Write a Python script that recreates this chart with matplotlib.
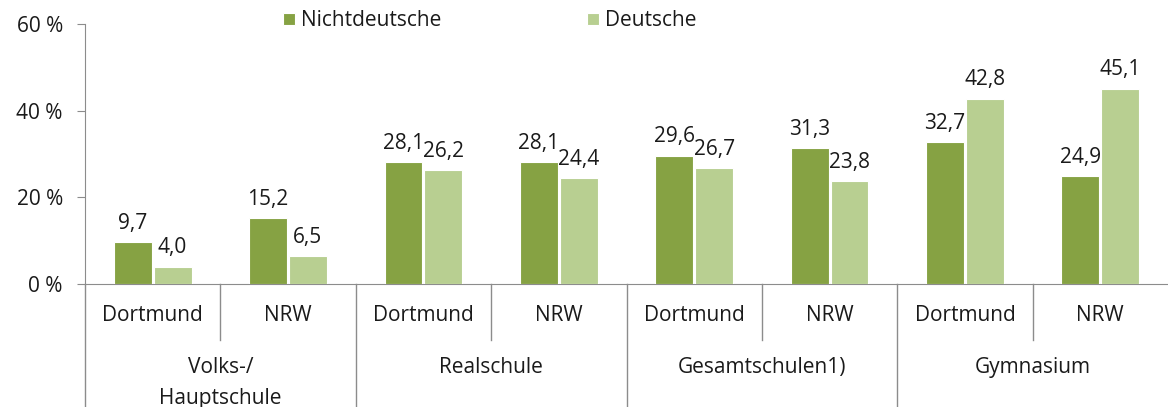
import matplotlib.pyplot as plt
import numpy as np

plt.rcParams['font.family'] = ['Open Sans', 'DejaVu Sans']

schools = ['Volks-/\nHauptschule', 'Realschule', 'Gesamtschulen1)', 'Gymnasium']
regions = ['Dortmund', 'NRW']
nichtdeutsche = [9.7, 15.2, 28.1, 28.1, 29.6, 31.3, 32.7, 24.9]
deutsche = [4.0, 6.5, 26.2, 24.4, 26.7, 23.8, 42.8, 45.1]

dark = '#86a243'
light = '#b8cf91'
grid_col = '#8c8c8c'
txt = '#1a1a1a'
fs = 15

fig = plt.figure(figsize=(11.68, 4.07), dpi=100)
ax = fig.add_axes([85 / 1168, 1 - 284 / 407, 1 - 85 / 1168, 260 / 407])

x = np.arange(len(nichtdeutsche))
w = 0.28
b1 = ax.bar(x - w / 2 - 0.007, nichtdeutsche, w, color=dark, edgecolor='white', linewidth=0.8,
            label='Nichtdeutsche', zorder=3)
b2 = ax.bar(x + w / 2 + 0.007, deutsche, w, color=light, edgecolor='white', linewidth=0.8,
            label='Deutsche', zorder=3)

for bars in (b1, b2):
    for r in bars:
        ax.annotate(f'{r.get_height():.1f}'.replace('.', ','),
                    (r.get_x() + r.get_width() / 2, r.get_height()),
                    xytext=(0, 6), textcoords='offset points',
                    ha='center', va='bottom', fontsize=fs, color=txt)

ax.set_xlim(-0.5, 7.5)
ax.set_ylim(0, 60)
ax.set_yticks([0, 20, 40, 60])
ax.set_yticklabels(['0 %', '20 %', '40 %', '60 %'], fontsize=fs, color=txt)
ax.tick_params(axis='y', length=6, color=grid_col, pad=10)
ax.set_xticks([])
for s in ['top', 'right']:
    ax.spines[s].set_visible(False)
for s in ['left', 'bottom']:
    ax.spines[s].set_color(grid_col)

trans = ax.get_xaxis_transform()
# left axis continues down through category labels
ax.plot([-0.5, -0.5], [0, -0.473], color=grid_col, lw=1, transform=trans, clip_on=False)
for xs in [0.5, 2.5, 4.5, 6.5]:
    ax.plot([xs, xs], [0, -0.215], color=grid_col, lw=1, transform=trans, clip_on=False)
for xs in [1.5, 3.5, 5.5]:
    ax.plot([xs, xs], [0, -0.473], color=grid_col, lw=1, transform=trans, clip_on=False)

for i in x:
    ax.text(i, -0.123, regions[i % 2], transform=trans, ha='center', va='center',
            fontsize=fs, color=txt)
for g, name in enumerate(schools):
    ax.text(2 * g + 0.5, -0.282, name, transform=trans, ha='center', va='top',
            fontsize=fs, color=txt, linespacing=1.6)

fig.legend(handles=[b1, b2], loc='center left', bbox_to_anchor=(273 / 1168, 1 - 21 / 407),
           ncol=2, frameon=False, fontsize=fs, columnspacing=7.0, handlelength=0.55,
           handleheight=0.55, handletextpad=0.3, borderpad=0, labelcolor=txt)

fig.savefig('out.png', dpi=100)
